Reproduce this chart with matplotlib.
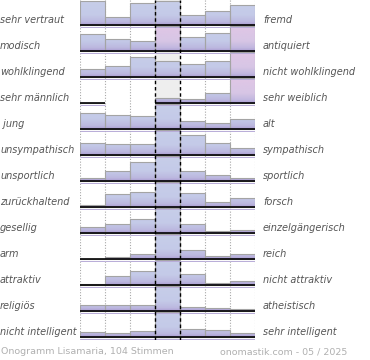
import numpy as np
import matplotlib
matplotlib.use("Agg")
import matplotlib.pyplot as plt
from matplotlib.colors import LinearSegmentedColormap
from matplotlib.patches import Rectangle
from matplotlib.transforms import blended_transform_factory

# left / right poles of each scale
left_labels = ["sehr vertraut", "modisch", "wohlklingend", "sehr männlich", " jung",
               "unsympathisch", "unsportlich", "zurückhaltend", "gesellig", "arm",
               "attraktiv", "religiös", "nicht intelligent"]
right_labels = ["fremd", "antiquiert", "nicht wohlklingend", "sehr weiblich", "alt",
                "sympathisch", "sportlich", "forsch", "einzelgängerisch", "reich",
                "nicht attraktiv", "atheistisch", "sehr intelligent"]

# bar heights per row (7 bins), 25 = full height, larger values are cut off
votes = [
    [24.0, 8.0, 22.6, 24.6, 10.0, 14.0, 20.0],
    [17.3, 12.6, 10.6, 30.0, 14.6, 18.0, 30.0],
    [8.0, 11.0, 20.0, 16.0, 13.0, 16.0, 30.0],
    [0.3, 0.0, 0.0, 5.3, 4.0, 10.6, 30.0],
    [16.6, 14.6, 13.6, 30.0, 8.6, 6.0, 10.6],
    [12.6, 11.6, 11.6, 30.0, 20.0, 12.0, 7.0],
    [3.6, 10.0, 19.0, 30.0, 10.6, 6.0, 3.3],
    [2.0, 13.0, 15.0, 30.0, 14.6, 5.0, 9.6],
    [6.6, 9.0, 14.0, 30.0, 9.0, 2.0, 3.0],
    [0.6, 2.0, 5.0, 30.0, 9.0, 3.0, 5.0],
    [1.5, 9.0, 14.0, 30.0, 11.0, 2.6, 4.0],
    [6.0, 6.0, 6.0, 30.0, 4.0, 3.6, 2.6],
    [5.6, 4.0, 6.6, 30.0, 8.6, 7.3, 4.0],
]
full = 25.0
pink_bars = [(1, 3), (1, 6), (2, 6), (3, 6)]

footer_left = "Onogramm Lisamaria, 104 Stimmen"
footer_right = "onomastik.com - 05 / 2025"

row_px = 26.0
n_rows = len(votes)
n_bins = 7

fig = plt.figure(figsize=(3.7, 3.6), dpi=100)
# chart area: x 80..255 px, y 0..340 px
ax = fig.add_axes([80 / 370, 20 / 360, 175 / 370, 340 / 360])
ax.axis("off")

blue = LinearSegmentedColormap.from_list("b", [(0, "#c7cee9"), (0.6, "#c4cae8"), (0.88, "#bcb8df"), (1, "#ab9dd2")])
pink = LinearSegmentedColormap.from_list("p", [(0, "#e0c6e6"), (0.6, "#d7c6e5"), (0.88, "#c1b7df"), (1, "#ab9dd2")])
grad = np.linspace(0, 1, 64).reshape(-1, 1)

ax.axvspan(3, 4, color="#eeeeee", zorder=0, lw=0)
for k in range(n_bins + 1):
    if k in (3, 4):
        continue
    ax.axvline(k, color="#a8a8a8", ls=(0, (1, 1.5)), lw=0.8, zorder=0.5)
for k in (3, 4):
    ax.axvline(k, color="black", ls=(0, (2.5, 2)), lw=1.0, zorder=6)

cap = full / row_px
for r, row in enumerate(votes):
    for k, v in enumerate(row):
        if v <= 0:
            continue
        h = min(v, full) / row_px
        rect = Rectangle((k, r), 1, -h, facecolor="none", edgecolor="#a4a4a4", lw=0.8, zorder=3)
        ax.add_patch(rect)
        cmap = pink if (r, k) in pink_bars else blue
        im = ax.imshow(grad, cmap=cmap, aspect="auto", origin="upper",
                       extent=(k, k + 1, r, r - cap), zorder=2, interpolation="bilinear")
        im.set_clip_path(rect)
        ax.hlines(r, k, k + 1, color="black", lw=1.2, zorder=4)
        ax.hlines(r + 1.2 / row_px, k, k + 1, color="#b8acd8", lw=0.7, zorder=4)

ax.set_xlim(0, n_bins)
ax.set_ylim((340 - 25.3) / row_px, -25.3 / row_px)

tr_left = blended_transform_factory(fig.transFigure, ax.transData)
for r in range(n_rows):
    y = r - 5.5 / row_px
    ax.text(0.0, y, left_labels[r], transform=tr_left, ha="left", va="center",
            fontsize=7.0, style="italic", color="#555555")
    ax.text(263 / 370, y, right_labels[r], transform=tr_left, ha="left", va="center",
            fontsize=7.0, style="italic", color="#555555")

fig.text(1 / 370, 1 - 352 / 360, footer_left, ha="left", va="center", fontsize=6.8, color="#b0b0b0")
fig.text(347 / 370, 1 - 352 / 360, footer_right, ha="right", va="center", fontsize=6.8, color="#b0b0b0")

fig.savefig("out.png", dpi=100)
